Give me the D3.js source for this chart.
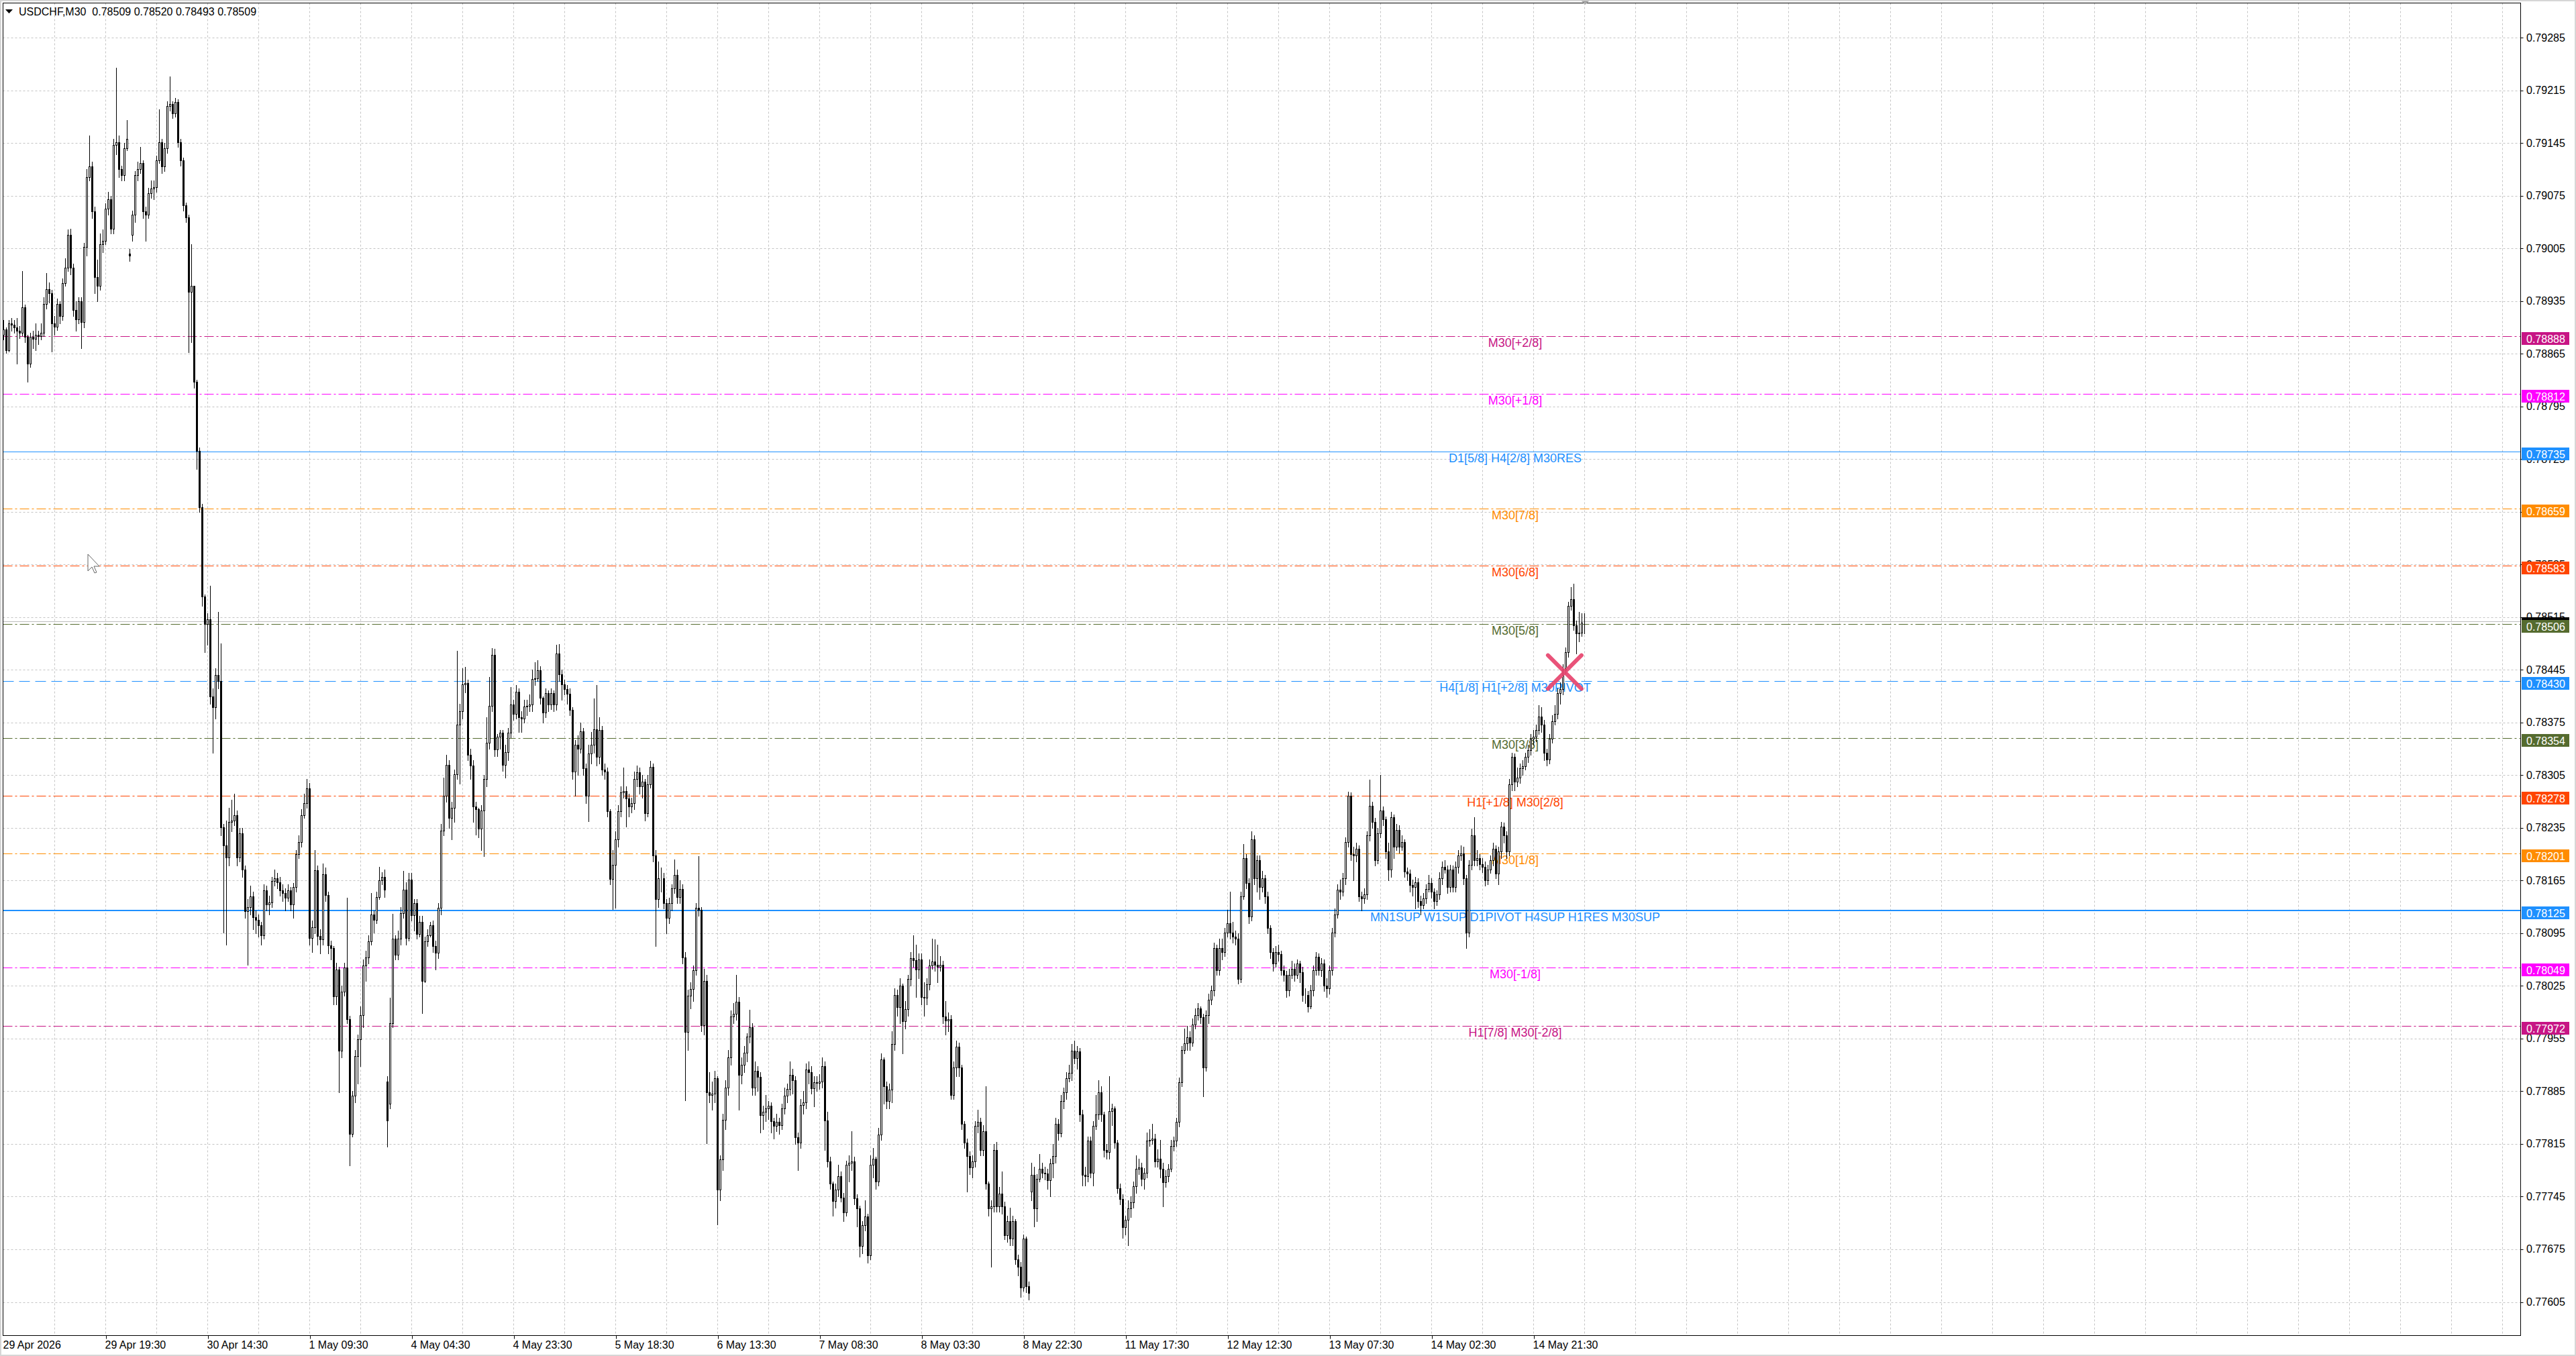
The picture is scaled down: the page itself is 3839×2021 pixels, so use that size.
<!DOCTYPE html>
<html>
<head>
<meta charset="utf-8">
<title>USDCHF,M30</title>
<script src="https://cdn.jsdelivr.net/npm/d3@7"></script>
<style>
  html, body { margin: 0; padding: 0; background: #fff; }
  svg { display: block; }
</style>
</head>
<body>
<div id="chart"></div>
<script>
const symbol = 'USDCHF,M30';

// M30 bars, prices in points (0.00001)
const opens = [
  78890, 78897, 78870, 78905, 78903, 78900, 78895, 78893, 78927, 78887,
  78852, 78887, 78885, 78890, 78888, 78893, 78931, 78951, 78945, 78905,
  78901, 78931, 78915, 78959, 78979, 79023, 78979, 78923, 78911, 78935,
  78907, 79007, 79100, 79114, 79054, 78967, 78955, 79010, 79015, 79058,
  79070, 79031, 79142, 79146, 79110, 79102, 79138, 78998, 79023, 79050,
  79102, 79110, 79118, 79054, 79050, 79078, 79084, 79086, 79122, 79146,
  79114, 79138, 79194, 79197, 79184, 79199, 79146, 79122, 79062, 79046,
  78947, 78955, 78828, 78736, 78661, 78542, 78506, 78512, 78410, 78395,
  78438, 78430, 78236, 78212, 78196, 78243, 78245, 78252, 78196, 78228,
  78180, 78124, 78130, 78144, 78116, 78113, 78106, 78092, 78152, 78133,
  78136, 78164, 78168, 78163, 78152, 78148, 78142, 78152, 78133, 78156,
  78200, 78216, 78252, 78268, 78287, 78089, 78103, 78179, 78091, 78087,
  78173, 78146, 78079, 78075, 78011, 78047, 77939, 78017, 78049, 77981,
  77828, 77879, 77932, 77954, 77986, 78052, 78063, 78084, 78120, 78113,
  78143, 78165, 78170, 77898, 77868, 77975, 78088, 78066, 78088, 78122,
  78153, 78089, 78166, 78119, 78135, 78094, 78110, 78032, 78084, 78092,
  78106, 78078, 78069, 78129, 78231, 78278, 78319, 78248, 78262, 78306,
  78372, 78390, 78426, 78427, 78332, 78318, 78263, 78260, 78234, 78258,
  78300, 78348, 78397, 78465, 78339, 78356, 78361, 78319, 78336, 78361,
  78399, 78386, 78416, 78382, 78380, 78396, 78397, 78399, 78433, 78434,
  78444, 78408, 78388, 78414, 78399, 78414, 78399, 78467, 78439, 78426,
  78419, 78413, 78392, 78310, 78345, 78340, 78363, 78314, 78278, 78334,
  78345, 78366, 78329, 78365, 78312, 78310, 78257, 78167, 78186, 78220,
  78257, 78282, 78284, 78274, 78263, 78268, 78300, 78309, 78290, 78296,
  78254, 78293, 78316, 78198, 78140, 78168, 78168, 78135, 78115, 78135,
  78155, 78172, 78143, 78154, 78063, 77964, 78012, 78021, 78046, 78129,
  78126, 77973, 78032, 77884, 77880, 77882, 77902, 77754, 77794, 77847,
  77890, 77930, 77984, 77988, 78004, 77907, 77920, 77936, 77958, 77970,
  77890, 77912, 77904, 77853, 77858, 77862, 77866, 77845, 77839, 77844,
  77840, 77862, 77879, 77888, 77907, 77900, 77824, 77817, 77867, 77870,
  77914, 77910, 77889, 77897, 77896, 77898, 77918, 77846, 77792, 77762,
  77739, 77754, 77772, 77744, 77724, 77787, 77790, 77792, 77743, 77729,
  77679, 77707, 77719, 77667, 77787, 77795, 77765, 77827, 77927, 77892,
  77872, 77887, 77948, 78013, 77997, 78025, 77978, 77994, 78034, 78062,
  78059, 78047, 78060, 78010, 78009, 78027, 78052, 78057, 78053, 78050,
  78053, 77984, 77979, 77981, 77880, 77917, 77944, 77917, 77842, 77817,
  77799, 77784, 77792, 77839, 77844, 77807, 77832, 77762, 77729, 77732,
  77807, 77732, 77749, 77732, 77694, 77712, 77689, 77712, 77662, 77652,
  77624, 77689, 77626, 77752, 77774, 77729, 77769, 77782, 77777, 77776,
  77767, 77789, 77799, 77842, 77829, 77872, 77884, 77902, 77909, 77939,
  77929, 77938, 77854, 77774, 77772, 77819, 77777, 77839, 77854, 77884,
  77854, 77807, 77804, 77859, 77862, 77817, 77756, 77742, 77704, 77714,
  77729, 77737, 77759, 77782, 77784, 77769, 77777, 77819, 77820, 77822,
  77792, 77795, 77782, 77764, 77772, 77782, 77812, 77819, 77844, 77897,
  77940, 77949, 77957, 77950, 77974, 77986, 77995, 77983, 77917, 77986,
  78007, 78019, 78075, 78046, 78075, 78070, 78096, 78108, 78096, 78090,
  78088, 78034, 78144, 78195, 78162, 78117, 78220, 78168, 78192, 78156,
  78168, 78144, 78102, 78070, 78055, 78070, 78067, 78046, 78040, 78019,
  78040, 78048, 78040, 78055, 78043, 78013, 78013, 77998, 78019, 78046,
  78064, 78046, 78055, 78025, 78022, 78046, 78096, 78120, 78153, 78150,
  78168, 78216, 78278, 78200, 78198, 78207, 78144, 78141, 78147, 78225,
  78264, 78243, 78192, 78228, 78258, 78246, 78204, 78180, 78249, 78210,
  78232, 78210, 78216, 78177, 78174, 78159, 78156, 78163, 78138, 78132,
  78141, 78154, 78162, 78150, 78138, 78147, 78168, 78183, 78180, 78156,
  78180, 78156, 78183, 78198, 78201, 78168, 78096, 78186, 78225, 78192,
  78195, 78187, 78183, 78165, 78180, 78192, 78207, 78174, 78204, 78237,
  78225, 78204, 78293, 78329, 78296, 78302, 78314, 78317, 78329, 78338,
  78353, 78356, 78365, 78383, 78372, 78335, 78326, 78353, 78377, 78386,
  78414, 78419, 78445, 78468, 78530, 78539, 78504, 78493, 78494, 78509
];

const highs = [
  78910, 78900, 78910, 78912, 78910, 78912, 78902, 78975, 78930, 78890,
  78893, 78895, 78905, 78895, 78905, 78940, 78972, 78960, 78950, 78915,
  78938, 78935, 78965, 78992, 79030, 79031, 78985, 78935, 78940, 78940,
  79012, 79110, 79155, 79120, 79060, 78990, 79025, 79030, 79065, 79080,
  79075, 79150, 79245, 79155, 79115, 79145, 79175, 79004, 79055, 79108,
  79120, 79140, 79122, 79060, 79085, 79095, 79095, 79128, 79190, 79150,
  79145, 79200, 79233, 79200, 79205, 79203, 79150, 79125, 79066, 79050,
  79010, 78955, 78830, 78740, 78665, 78545, 78520, 78557, 78420, 78447,
  78522, 78480, 78240, 78245, 78262, 78272, 78280, 78258, 78235, 78235,
  78185, 78140, 78158, 78150, 78125, 78120, 78110, 78160, 78158, 78145,
  78170, 78180, 78175, 78170, 78160, 78155, 78160, 78156, 78162, 78205,
  78225, 78260, 78280, 78300, 78295, 78112, 78205, 78185, 78100, 78188,
  78182, 78150, 78085, 78078, 78056, 78050, 78025, 78056, 78142, 77985,
  77885, 77940, 77960, 77998, 78060, 78072, 78092, 78148, 78125, 78150,
  78183, 78176, 78180, 77905, 78009, 78121, 78092, 78098, 78130, 78178,
  78163, 78175, 78175, 78140, 78140, 78118, 78118, 78090, 78100, 78110,
  78112, 78085, 78135, 78240, 78302, 78332, 78325, 78270, 78312, 78470,
  78400, 78447, 78449, 78432, 78340, 78325, 78270, 78262, 78265, 78305,
  78382, 78435, 78474, 78473, 78360, 78365, 78365, 78345, 78368, 78422,
  78405, 78425, 78420, 78390, 78405, 78405, 78412, 78445, 78455, 78458,
  78450, 78410, 78420, 78418, 78420, 78418, 78478, 78479, 78445, 78432,
  78425, 78420, 78395, 78352, 78358, 78375, 78368, 78320, 78345, 78362,
  78407, 78425, 78382, 78370, 78320, 78315, 78260, 78205, 78230, 78265,
  78290, 78315, 78290, 78280, 78275, 78310, 78318, 78315, 78305, 78300,
  78305, 78324, 78320, 78205, 78190, 78182, 78175, 78140, 78142, 78160,
  78193, 78180, 78165, 78160, 78070, 78020, 78030, 78052, 78135, 78197,
  78130, 78048, 78040, 77910, 77898, 77912, 77905, 77800, 77855, 77900,
  77940, 77992, 78002, 78040, 78010, 77930, 77945, 77962, 77993, 77975,
  77925, 77918, 77910, 77866, 77880, 77872, 77870, 77850, 77855, 77850,
  77868, 77890, 77895, 77925, 77915, 77905, 77830, 77875, 77885, 77922,
  77925, 77918, 77905, 77905, 77908, 77930, 77925, 77858, 77798, 77765,
  77762, 77787, 77778, 77750, 77793, 77800, 77832, 77798, 77748, 77733,
  77712, 77740, 77722, 77800, 77810, 77798, 77836, 77935, 77930, 77898,
  77895, 77965, 78022, 78020, 78035, 78028, 78005, 78040, 78070, 78092,
  78080, 78068, 78068, 78030, 78035, 78060, 78088, 78087, 78080, 78065,
  78058, 78005, 77990, 77986, 77925, 77952, 77950, 77920, 77845, 77822,
  77805, 77800, 77845, 77860, 77850, 77840, 77892, 77765, 77740, 77815,
  77818, 77758, 77778, 77738, 77720, 77730, 77720, 77715, 77668, 77658,
  77695, 77692, 77632, 77790, 77785, 77775, 77802, 77790, 77785, 77782,
  77795, 77815, 77850, 77848, 77880, 77890, 77910, 77920, 77948, 77952,
  77945, 77942, 77860, 77785, 77825, 77825, 77845, 77880, 77900, 77892,
  77858, 77815, 77905, 77868, 77865, 77820, 77762, 77748, 77720, 77740,
  77745, 77765, 77800, 77795, 77790, 77783, 77830, 77835, 77842, 77828,
  77808, 77820, 77790, 77780, 77788, 77820, 77825, 77850, 77903, 77945,
  77968, 77972, 77965, 77982, 77995, 78002, 77998, 77988, 77992, 78015,
  78025, 78082, 78080, 78088, 78088, 78102, 78126, 78150, 78110, 78098,
  78095, 78150, 78213, 78200, 78168, 78230, 78225, 78198, 78198, 78178,
  78172, 78150, 78106, 78075, 78078, 78080, 78072, 78052, 78045, 78048,
  78058, 78055, 78060, 78058, 78050, 78022, 78018, 78026, 78052, 78070,
  78068, 78062, 78060, 78035, 78052, 78102, 78128, 78160, 78166, 78175,
  78222, 78283, 78282, 78210, 78215, 78212, 78150, 78155, 78230, 78299,
  78270, 78248, 78235, 78305, 78263, 78250, 78215, 78256, 78253, 78240,
  78238, 78225, 78220, 78182, 78180, 78166, 78170, 78168, 78145, 78148,
  78160, 78172, 78168, 78155, 78152, 78176, 78190, 78192, 78185, 78186,
  78185, 78190, 78205, 78212, 78210, 78172, 78192, 78234, 78249, 78205,
  78200, 78195, 78190, 78186, 78198, 78215, 78212, 78210, 78243, 78242,
  78230, 78300, 78335, 78334, 78315, 78320, 78325, 78335, 78345, 78360,
  78365, 78372, 78398, 78395, 78378, 78340, 78360, 78385, 78398, 78420,
  78428, 78452, 78475, 78535, 78555, 78559, 78510, 78522, 78520, 78520
];

const lows = [
  78884, 78866, 78868, 78895, 78893, 78852, 78886, 78889, 78880, 78828,
  78847, 78872, 78870, 78878, 78884, 78888, 78925, 78933, 78868, 78890,
  78896, 78905, 78910, 78955, 78975, 78970, 78915, 78895, 78905, 78872,
  78900, 78995, 79095, 79045, 78945, 78935, 78950, 79000, 79010, 79050,
  79025, 79025, 79130, 79100, 79095, 79095, 79135, 78988, 79015, 79040,
  79095, 79105, 79045, 79015, 79045, 79072, 79070, 79080, 79118, 79105,
  79108, 79132, 79188, 79178, 79180, 79140, 79115, 79055, 79040, 78867,
  78880, 78820, 78712, 78655, 78530, 78468, 78478, 78400, 78335, 78380,
  78420, 78225, 78096, 78080, 78185, 78230, 78238, 78185, 78190, 78170,
  78115, 78053, 78120, 78100, 78095, 78090, 78080, 78088, 78125, 78120,
  78130, 78158, 78155, 78145, 78138, 78125, 78138, 78125, 78115, 78150,
  78195, 78210, 78248, 78262, 78080, 78070, 78095, 78080, 78068, 78080,
  78138, 78068, 78060, 78000, 78000, 77884, 77930, 78012, 77975, 77786,
  77825, 77870, 77895, 77918, 77970, 78032, 78055, 78080, 78096, 78108,
  78140, 78160, 78143, 77811, 77862, 77970, 78060, 78060, 78080, 78115,
  78080, 78085, 78112, 78098, 78088, 78090, 77989, 78030, 78078, 78090,
  78070, 78047, 78062, 78120, 78225, 78270, 78235, 78220, 78243, 78300,
  78294, 78380, 78415, 78325, 78300, 78243, 78226, 78222, 78205, 78197,
  78290, 78340, 78390, 78330, 78330, 78340, 78311, 78302, 78325, 78355,
  78378, 78380, 78362, 78362, 78375, 78385, 78390, 78390, 78425, 78430,
  78400, 78375, 78382, 78390, 78393, 78390, 78392, 78430, 78405, 78412,
  78400, 78385, 78300, 78278, 78305, 78335, 78305, 78268, 78244, 78320,
  78335, 78318, 78320, 78305, 78300, 78250, 78160, 78127, 78129, 78210,
  78250, 78275, 78237, 78250, 78255, 78260, 78290, 78280, 78275, 78245,
  78250, 78288, 78190, 78078, 78130, 78150, 78128, 78095, 78108, 78125,
  78148, 78135, 78135, 78055, 77873, 77940, 77995, 78005, 78040, 78118,
  77965, 77960, 77816, 77870, 77860, 77870, 77708, 77740, 77780, 77835,
  77880, 77920, 77975, 77980, 77860, 77895, 77910, 77925, 77950, 77880,
  77880, 77885, 77830, 77835, 77845, 77848, 77830, 77822, 77832, 77828,
  77835, 77855, 77870, 77880, 77882, 77815, 77780, 77810, 77855, 77862,
  77895, 77882, 77865, 77885, 77888, 77890, 77807, 77785, 77755, 77720,
  77730, 77745, 77738, 77712, 77720, 77765, 77780, 77735, 77705, 77665,
  77670, 77700, 77657, 77662, 77770, 77755, 77760, 77820, 77868, 77862,
  77862, 77870, 77940, 77985, 77975, 77935, 77968, 77985, 78025, 78050,
  78010, 78035, 78000, 77985, 78000, 78020, 78048, 78045, 78030, 78045,
  77975, 77960, 77965, 77875, 77875, 77905, 77905, 77835, 77810, 77752,
  77775, 77770, 77785, 77830, 77800, 77800, 77755, 77720, 77652, 77725,
  77725, 77725, 77722, 77688, 77685, 77680, 77680, 77655, 77640, 77612,
  77620, 77618, 77608, 77740, 77705, 77712, 77765, 77770, 77768, 77755,
  77745, 77770, 77790, 77820, 77825, 77862, 77875, 77898, 77900, 77922,
  77915, 77845, 77760, 77760, 77765, 77770, 77760, 77835, 77848, 77845,
  77798, 77795, 77795, 77840, 77810, 77750, 77735, 77690, 77695, 77680,
  77718, 77730, 77750, 77775, 77760, 77755, 77770, 77812, 77815, 77785,
  77785, 77770, 77732, 77758, 77765, 77778, 77806, 77812, 77838, 77892,
  77935, 77940, 77940, 77945, 77968, 77980, 77975, 77878, 77912, 77975,
  78000, 78012, 78040, 78040, 78060, 78065, 78090, 78088, 78082, 78080,
  78028, 78030, 78140, 78155, 78108, 78112, 78160, 78150, 78140, 78150,
  78135, 78095, 78062, 78045, 78050, 78058, 78040, 78032, 78010, 78012,
  78035, 78032, 78035, 78030, 78005, 78002, 77991, 77995, 78012, 78040,
  78040, 78038, 78018, 78010, 78015, 78040, 78090, 78115, 78140, 78145,
  78160, 78210, 78192, 78165, 78190, 78138, 78125, 78135, 78140, 78218,
  78235, 78185, 78188, 78222, 78238, 78195, 78165, 78170, 78195, 78205,
  78202, 78205, 78170, 78165, 78150, 78145, 78128, 78130, 78120, 78128,
  78135, 78150, 78142, 78128, 78132, 78140, 78160, 78175, 78148, 78150,
  78150, 78150, 78175, 78192, 78160, 78075, 78090, 78180, 78185, 78185,
  78180, 78176, 78158, 78160, 78175, 78185, 78168, 78160, 78195, 78215,
  78195, 78198, 78285, 78285, 78290, 78295, 78305, 78312, 78322, 78332,
  78345, 78350, 78360, 78362, 78325, 78318, 78320, 78348, 78372, 78380,
  78400, 78412, 78440, 78462, 78525, 78498, 78467, 78483, 78490, 78493
];

const closes = [
  78897, 78870, 78905, 78903, 78900, 78895, 78893, 78927, 78887, 78852,
  78887, 78885, 78890, 78888, 78893, 78931, 78951, 78945, 78905, 78901,
  78931, 78915, 78959, 78979, 79023, 78979, 78923, 78911, 78935, 78907,
  79007, 79100, 79114, 79054, 78967, 78955, 79010, 79015, 79058, 79070,
  79031, 79142, 79146, 79110, 79102, 79138, 79150, 78995, 79050, 79102,
  79110, 79118, 79054, 79050, 79078, 79084, 79086, 79122, 79146, 79114,
  79138, 79194, 79197, 79184, 79199, 79146, 79122, 79062, 79046, 78947,
  78955, 78828, 78736, 78661, 78542, 78506, 78512, 78410, 78395, 78438,
  78430, 78236, 78212, 78196, 78243, 78245, 78252, 78196, 78228, 78180,
  78124, 78130, 78144, 78116, 78113, 78106, 78092, 78152, 78133, 78136,
  78164, 78168, 78163, 78152, 78148, 78142, 78152, 78133, 78156, 78200,
  78216, 78252, 78268, 78287, 78089, 78103, 78179, 78091, 78087, 78173,
  78146, 78079, 78075, 78011, 78047, 77939, 78017, 78049, 77981, 77828,
  77879, 77932, 77954, 77986, 78052, 78063, 78084, 78120, 78113, 78143,
  78165, 78170, 78153, 77846, 77975, 78088, 78066, 78088, 78122, 78153,
  78089, 78166, 78119, 78135, 78094, 78110, 78032, 78084, 78092, 78106,
  78078, 78069, 78129, 78231, 78278, 78319, 78248, 78262, 78306, 78372,
  78390, 78426, 78427, 78332, 78318, 78263, 78260, 78234, 78258, 78300,
  78348, 78397, 78465, 78339, 78356, 78361, 78319, 78336, 78361, 78399,
  78386, 78416, 78382, 78380, 78396, 78397, 78399, 78433, 78434, 78444,
  78408, 78388, 78414, 78399, 78414, 78399, 78467, 78439, 78426, 78419,
  78413, 78392, 78310, 78345, 78340, 78363, 78314, 78278, 78334, 78345,
  78366, 78329, 78365, 78312, 78310, 78257, 78167, 78186, 78220, 78257,
  78282, 78284, 78274, 78263, 78268, 78300, 78309, 78290, 78296, 78254,
  78293, 78316, 78198, 78140, 78168, 78168, 78135, 78115, 78135, 78155,
  78172, 78143, 78154, 78063, 77964, 78012, 78021, 78046, 78129, 78126,
  77973, 78032, 77884, 77880, 77882, 77902, 77754, 77794, 77847, 77890,
  77930, 77984, 77988, 78004, 77907, 77920, 77936, 77958, 77970, 77890,
  77912, 77904, 77853, 77858, 77862, 77866, 77845, 77839, 77844, 77840,
  77862, 77879, 77888, 77907, 77900, 77824, 77817, 77867, 77870, 77914,
  77910, 77889, 77897, 77896, 77898, 77918, 77846, 77792, 77762, 77739,
  77754, 77772, 77744, 77724, 77787, 77790, 77792, 77743, 77729, 77679,
  77707, 77719, 77667, 77787, 77795, 77765, 77827, 77927, 77892, 77872,
  77887, 77948, 78013, 77997, 78025, 77978, 77994, 78034, 78062, 78059,
  78047, 78060, 78010, 78009, 78027, 78052, 78057, 78053, 78050, 78053,
  77984, 77979, 77981, 77880, 77917, 77944, 77917, 77842, 77817, 77799,
  77784, 77792, 77839, 77844, 77807, 77832, 77762, 77729, 77732, 77807,
  77732, 77749, 77732, 77694, 77712, 77689, 77712, 77662, 77652, 77624,
  77689, 77626, 77617, 77774, 77729, 77769, 77782, 77777, 77776, 77767,
  77789, 77799, 77842, 77829, 77872, 77884, 77902, 77909, 77939, 77929,
  77938, 77854, 77774, 77772, 77819, 77777, 77839, 77854, 77884, 77854,
  77807, 77804, 77859, 77862, 77817, 77756, 77742, 77704, 77714, 77729,
  77737, 77759, 77782, 77784, 77769, 77777, 77819, 77820, 77822, 77792,
  77795, 77782, 77764, 77772, 77782, 77812, 77819, 77844, 77897, 77940,
  77949, 77957, 77950, 77974, 77986, 77995, 77983, 77917, 77986, 78007,
  78019, 78075, 78046, 78075, 78070, 78096, 78108, 78096, 78090, 78088,
  78034, 78144, 78195, 78162, 78117, 78220, 78168, 78192, 78156, 78168,
  78144, 78102, 78070, 78055, 78070, 78067, 78046, 78040, 78019, 78040,
  78048, 78040, 78055, 78043, 78013, 78013, 77998, 78019, 78046, 78064,
  78046, 78055, 78025, 78022, 78046, 78096, 78120, 78153, 78150, 78168,
  78216, 78278, 78200, 78198, 78207, 78144, 78141, 78147, 78225, 78264,
  78243, 78192, 78228, 78258, 78246, 78204, 78180, 78249, 78210, 78232,
  78210, 78216, 78177, 78174, 78159, 78156, 78163, 78138, 78132, 78141,
  78154, 78162, 78150, 78138, 78147, 78168, 78183, 78180, 78156, 78180,
  78156, 78183, 78198, 78201, 78168, 78096, 78186, 78225, 78192, 78195,
  78187, 78183, 78165, 78180, 78192, 78207, 78174, 78204, 78237, 78225,
  78204, 78293, 78329, 78296, 78302, 78314, 78317, 78329, 78338, 78353,
  78356, 78365, 78383, 78372, 78335, 78326, 78353, 78377, 78386, 78414,
  78419, 78445, 78468, 78530, 78539, 78504, 78493, 78494, 78508, 78509
];

const timeLabels = ['29 Apr 2026', '29 Apr 19:30', '30 Apr 14:30', '1 May 09:30', '4 May 04:30',
  '4 May 23:30', '5 May 18:30', '6 May 13:30', '7 May 08:30', '8 May 03:30', '8 May 22:30',
  '11 May 17:30', '12 May 12:30', '13 May 07:30', '14 May 02:30', '14 May 21:30'];
const timeLabelBars = [0, 38, 76, 114, 152, 190, 228, 266, 304, 342, 380, 418, 456, 494, 532, 570];

const priceTicks = [0.79285, 0.79215, 0.79145, 0.79075, 0.79005, 0.78935, 0.78865, 0.78795,
  0.78725, 0.78655, 0.78585, 0.78515, 0.78445, 0.78375, 0.78305, 0.78235, 0.78165, 0.78095,
  0.78025, 0.77955, 0.77885, 0.77815, 0.77745, 0.77675, 0.77605];

// murrey / pivot levels
const levelPrices = [0.78888, 0.78812, 0.78735, 0.78659, 0.78583, 0.78506, 0.78430,
  0.78354, 0.78278, 0.78201, 0.78125, 0.78049, 0.77972];
const levelNames = ['M30[+2/8]', 'M30[+1/8]', 'D1[5/8] H4[2/8] M30RES', 'M30[7/8]', 'M30[6/8]',
  'M30[5/8]', 'H4[1/8] H1[+2/8] M30PIVOT', 'M30[3/8]', 'H1[+1/8] M30[2/8]', 'M30[1/8]',
  'MN1SUP W1SUP D1PIVOT H4SUP H1RES M30SUP', 'M30[-1/8]', 'H1[7/8] M30[-2/8]'];

const bidPrice = 0.78509;
const crossBar = 581.6;
const crossPrice = 0.78442;

// styling
const levelColors = ['#C71585', '#FF00FF', '#1E90FF', '#FF8C00', '#FF4500', '#556B2F', '#1E90FF',
  '#556B2F', '#FF4500', '#FF8C00', '#1E90FF', '#FF00FF', '#C71585'];
const levelKinds = ['dashdot', 'dashdot', 'solid', 'dashdot', 'dashdot', 'dashdot', 'dash',
  'dashdot', 'dashdot', 'dashdot', 'thick', 'dashdot', 'dashdot'];
const dashFor = { dashdot: '14,4,3,4', dash: '16,8', solid: null, thick: null };

const W = 3839, H = 2021;
const frame = { left: 4.5, top: 4.5, right: 3756.5, bottom: 1990.5 };
const uiFont = '"Liberation Sans", Arial, sans-serif';

const x = d3.scaleLinear().domain([0, closes.length - 1]).range([5.5, 2361.5]);
const y = d3.scaleLinear().domain([0.77605, 0.79285]).range([1940.5, 56]);
const pt = v => v / 100000;
const crisp = v => Math.round(v) + 0.5;
const fmt = d3.format('.5f');

const svg = d3.select('#chart').append('svg')
  .attr('width', W)
  .attr('height', H)
  .attr('viewBox', `0 0 ${W} ${H}`);

svg.append('rect').attr('width', W).attr('height', H).attr('fill', '#fff');
svg.append('rect')
  .attr('x', 1).attr('y', 1).attr('width', W - 2).attr('height', H - 2)
  .attr('fill', 'none').attr('stroke', '#d6d6d6').attr('stroke-width', 2);

// grid
const grid = svg.append('g').attr('stroke', '#c4c4c4').attr('stroke-dasharray', '3,3');
grid.selectAll('line.h')
  .data(priceTicks)
  .enter().append('line')
  .attr('class', 'h')
  .attr('x1', frame.left).attr('x2', frame.right)
  .attr('y1', d => crisp(y(d))).attr('y2', d => crisp(y(d)));

const gridBars = d3.range(19, 2000, 19).filter(b => x(b) < frame.right - 2);
grid.selectAll('line.v')
  .data(gridBars)
  .enter().append('line')
  .attr('class', 'v')
  .attr('x1', d => x(d)).attr('x2', d => x(d))
  .attr('y1', frame.top).attr('y2', frame.bottom);

// level lines
const levels = levelPrices.map((p, i) => ({
  price: p, name: levelNames[i], color: levelColors[i], kind: levelKinds[i]
}));

svg.append('g').selectAll('line')
  .data(levels)
  .enter().append('line')
  .attr('x1', frame.left).attr('x2', frame.right)
  .attr('y1', d => d.kind === 'thick' ? Math.round(y(d.price)) : crisp(y(d.price)))
  .attr('y2', d => d.kind === 'thick' ? Math.round(y(d.price)) : crisp(y(d.price)))
  .attr('stroke', d => d.color)
  .attr('stroke-width', d => d.kind === 'thick' ? 2 : 1)
  .attr('stroke-dasharray', d => dashFor[d.kind]);

svg.append('line')
  .attr('x1', frame.left).attr('x2', frame.right)
  .attr('y1', crisp(y(bidPrice))).attr('y2', crisp(y(bidPrice)))
  .attr('stroke', '#bdbdbd');

svg.append('g').selectAll('text')
  .data(levels)
  .enter().append('text')
  .attr('x', 2258)
  .attr('y', d => y(d.price) + 16)
  .attr('text-anchor', 'middle')
  .attr('font-family', uiFont)
  .attr('font-size', '18px')
  .attr('fill', d => d.color)
  .text(d => d.name);

// candles
const bars = closes.map((c, i) => ({ i, o: opens[i], h: highs[i], l: lows[i], c }));
const candle = svg.append('g').selectAll('g')
  .data(bars)
  .enter().append('g');

candle.append('line')
  .attr('x1', d => x(d.i)).attr('x2', d => x(d.i))
  .attr('y1', d => Math.round(y(pt(d.h))))
  .attr('y2', d => Math.round(y(pt(d.l))) + 1)
  .attr('stroke', '#000');

candle.append('rect')
  .attr('x', d => x(d.i) - 1)
  .attr('y', d => crisp(y(pt(Math.max(d.o, d.c)))))
  .attr('width', 2)
  .attr('height', d => Math.max(0, Math.round(y(pt(Math.min(d.o, d.c)))) - Math.round(y(pt(Math.max(d.o, d.c))))))
  .attr('fill', d => d.c > d.o ? '#fff' : '#000')
  .attr('stroke', '#000');

// chart frame
svg.append('rect')
  .attr('x', frame.left).attr('y', frame.top)
  .attr('width', frame.right - frame.left).attr('height', frame.bottom - frame.top)
  .attr('fill', 'none').attr('stroke', '#000');

// cross marker
const cx = x(crossBar), cy = y(crossPrice), arm = 25;
svg.append('g')
  .attr('stroke', '#e8456e').attr('stroke-width', 6).attr('stroke-linecap', 'round')
  .attr('opacity', 0.92)
  .selectAll('line')
  .data([[-1, -1, 1, 1], [1, -1, -1, 1]])
  .enter().append('line')
  .attr('x1', d => cx + d[0] * arm).attr('y1', d => cy + d[1] * arm)
  .attr('x2', d => cx + d[2] * arm).attr('y2', d => cy + d[3] * arm);

// mouse pointer left on the chart
svg.append('path')
  .attr('transform', 'translate(131,826)')
  .attr('d', 'M0,0 L0,25 L6,19 L10,28 L13,27 L9,18 L17,18 Z')
  .attr('fill', '#fff').attr('stroke', '#666').attr('stroke-width', 1);

// chart shift marker
svg.append('path')
  .attr('d', `M${x(closes.length - 1) - 5},1 L${x(closes.length - 1) + 7},1 L${x(closes.length - 1) + 1},7 Z`)
  .attr('fill', '#a8a8a8');

// price axis
const yAxis = svg.append('g');
yAxis.selectAll('line')
  .data(priceTicks)
  .enter().append('line')
  .attr('x1', frame.right).attr('x2', frame.right + 4)
  .attr('y1', d => crisp(y(d))).attr('y2', d => crisp(y(d)))
  .attr('stroke', '#000');
yAxis.selectAll('text')
  .data(priceTicks)
  .enter().append('text')
  .attr('x', 3765)
  .attr('y', d => y(d) + 5.5)
  .attr('font-family', uiFont)
  .attr('font-size', '16px')
  .attr('fill', '#000')
  .text(d => fmt(d));

// price boxes
const boxes = [{ price: bidPrice, color: '#000' }].concat(levels);
const box = svg.append('g').selectAll('g')
  .data(boxes)
  .enter().append('g');
box.append('rect')
  .attr('x', 3758).attr('width', 71)
  .attr('y', d => Math.round(y(d.price)) - 6).attr('height', 19)
  .attr('fill', d => d.color);
box.append('text')
  .attr('x', 3765)
  .attr('y', d => y(d.price) + 10)
  .attr('font-family', uiFont)
  .attr('font-size', '16px')
  .attr('fill', '#fff')
  .text(d => fmt(d.price));

// time axis
const xAxis = svg.append('g');
xAxis.selectAll('line')
  .data(timeLabelBars.slice(1))
  .enter().append('line')
  .attr('x1', d => x(d) + 1).attr('x2', d => x(d) + 1)
  .attr('y1', frame.bottom).attr('y2', frame.bottom + 5)
  .attr('stroke', '#000');
xAxis.selectAll('text')
  .data(timeLabels)
  .enter().append('text')
  .attr('x', (d, i) => x(timeLabelBars[i]) - 1)
  .attr('y', 2010)
  .attr('font-family', uiFont)
  .attr('font-size', '16px')
  .attr('fill', '#000')
  .text(d => d);

// header
const last = bars[bars.length - 1];
svg.append('path').attr('d', 'M8,14 L19,14 L13.5,20 Z').attr('fill', '#000');
svg.append('text')
  .attr('x', 28).attr('y', 22.5)
  .attr('font-family', uiFont)
  .attr('font-size', '16px')
  .attr('fill', '#000')
  .style('white-space', 'pre')
  .text(`${symbol}  ${[last.o, last.h, last.l, last.c].map(v => fmt(pt(v))).join(' ')}`);
</script>
</body>
</html>
